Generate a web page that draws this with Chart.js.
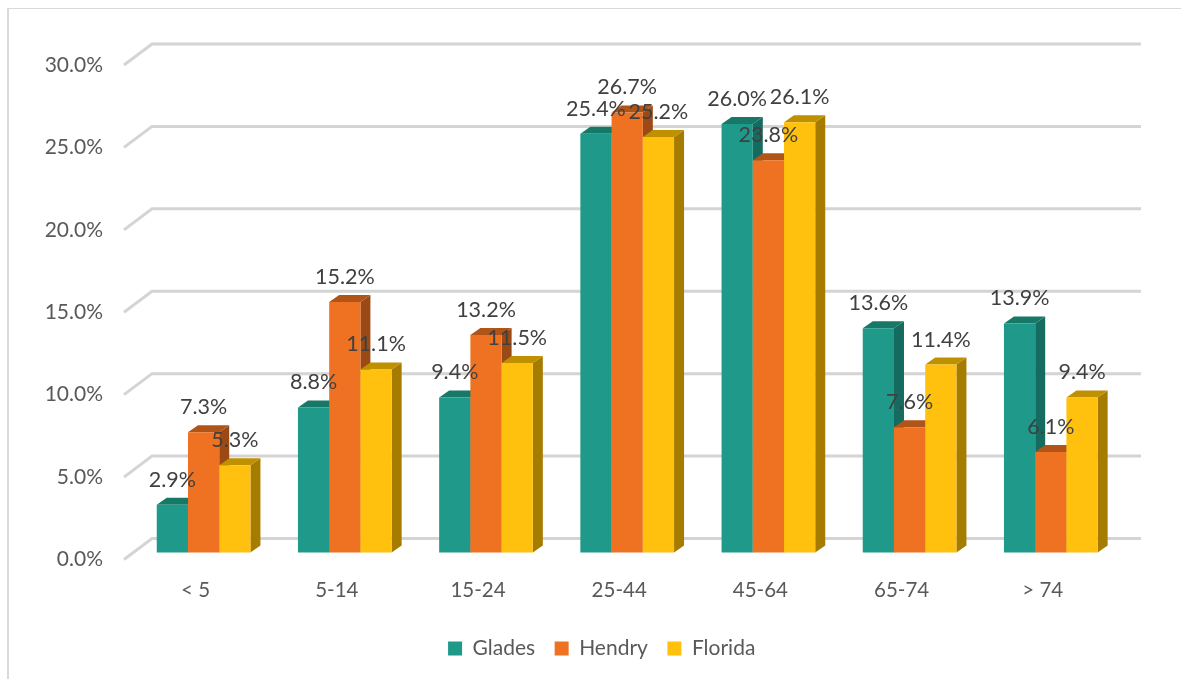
<!DOCTYPE html>
<html>
<head>
<meta charset="utf-8">
<script src="https://cdn.jsdelivr.net/npm/chart.js@4"></script>
<style>
html, body { margin: 0; padding: 0; background: #fff; overflow: hidden; }
#wrap { position: absolute; left: 0; top: 0; width: 1181px; height: 679px; overflow: hidden; }
#frame { position: absolute; left: 7px; top: 8px; width: 1180px; height: 680px; border-top: 1px solid #d9d9d9; border-left: 2px solid #d9d9d9; }
canvas { position: absolute; left: 0; top: 0; }
</style>
</head>
<body>
<div id="wrap">
<div id="frame"></div>
<canvas id="chart" width="1181" height="679"></canvas>
</div>
<script>
const ageGroups = ['< 5', '5-14', '15-24', '25-44', '45-64', '65-74', '> 74'];
const glades = [2.9, 8.8, 9.4, 25.4, 26.0, 13.6, 13.9];
const hendry = [7.3, 15.2, 13.2, 26.7, 23.8, 7.6, 6.1];
const florida = [5.3, 11.1, 11.5, 25.2, 26.1, 11.4, 9.4];

const FONT = 'Lato, sans-serif';
const DEPTH_X = 10, DEPTH_Y = 7;
// where the back wall and the front edge sit, relative to the plane of the bars
const BACK_X = 19, BACK_Y = -14, FRONT_X = -9, FRONT_Y = 7;
const WALL_RIGHT = 1141;
const LEGEND_SHIFT = 31;

const shades = {
    Glades: { top: '#177868', side: '#156b5f' },
    Hendry: { top: '#b05418', side: '#9c4a15' },
    Florida: { top: '#bf9000', side: '#a67c00' }
};

function poly(ctx, pts, color) {
    ctx.fillStyle = color;
    ctx.beginPath();
    pts.forEach((p, i) => i ? ctx.lineTo(p[0], p[1]) : ctx.moveTo(p[0], p[1]));
    ctx.closePath();
    ctx.fill();
}

// back wall gridlines plus the slanted bit on the left
const wallPlugin = {
    id: 'wall',
    beforeDatasetsDraw(chart) {
        const { ctx, scales: { y }, chartArea } = chart;
        ctx.save();
        ctx.strokeStyle = '#d4d4d4';
        ctx.lineWidth = 3;
        y.ticks.forEach(t => {
            const py = y.getPixelForValue(t.value);
            ctx.beginPath();
            ctx.moveTo(chartArea.left + FRONT_X, py + FRONT_Y);
            ctx.lineTo(chartArea.left + BACK_X, py + BACK_Y);
            ctx.lineTo(WALL_RIGHT, py + BACK_Y);
            ctx.stroke();
        });
        ctx.restore();
    }
};

// bars go left to right in each group so the sides overlap properly
const barsPlugin = {
    id: 'bars3d',
    beforeDatasetsDraw(chart) {
        const { ctx } = chart;
        ageGroups.forEach((_, i) => {
            chart.data.datasets.forEach((ds, d) => {
                const el = chart.getDatasetMeta(d).data[i];
                const c = shades[ds.label];
                const l = el.x - el.width / 2, r = el.x + el.width / 2;
                poly(ctx, [[r, el.y], [r + DEPTH_X, el.y - DEPTH_Y], [r + DEPTH_X, el.base - DEPTH_Y], [r, el.base]], c.side);
                poly(ctx, [[l, el.y], [l + DEPTH_X, el.y - DEPTH_Y], [r + DEPTH_X, el.y - DEPTH_Y], [r, el.y]], c.top);
                el.draw(ctx);
            });
        });
        return false;
    }
};

// afterDatasetsDraw is skipped once the bars plugin cancels, so labels go in afterDraw
const labelsPlugin = {
    id: 'barLabels',
    afterLayout(chart) {
        chart.legend.left += LEGEND_SHIFT;
        chart.legend.right += LEGEND_SHIFT;
        chart.legend.adjustHitBoxes();
    },
    afterDraw(chart) {
        const { ctx } = chart;
        ctx.save();
        ctx.font = '21.5px ' + FONT;
        ctx.fillStyle = '#404040';
        ctx.textAlign = 'center';
        ctx.textBaseline = 'middle';
        chart.data.datasets.forEach((ds, d) => {
            chart.getDatasetMeta(d).data.forEach((el, i) => {
                ctx.fillText(ds.data[i].toFixed(1) + '%', el.x, el.y - 25);
            });
        });
        ctx.restore();
    }
};

new Chart(document.getElementById('chart').getContext('2d'), {
    type: 'bar',
    data: {
        labels: ageGroups,
        datasets: [
            { label: 'Glades', data: glades, backgroundColor: '#1f9a8a' },
            { label: 'Hendry', data: hendry, backgroundColor: '#ee7222' },
            { label: 'Florida', data: florida, backgroundColor: '#ffc00e' }
        ]
    },
    options: {
        responsive: false,
        animation: false,
        layout: { padding: { left: 20, right: 59.6, top: 58, bottom: 10 } },
        datasets: { bar: { categoryPercentage: 0.6635, barPercentage: 1 } },
        plugins: {
            tooltip: { enabled: false },
            legend: {
                position: 'bottom',
                labels: { boxWidth: 14, boxHeight: 14, padding: 19.5, color: '#595959', font: { family: FONT, size: 21 } }
            }
        },
        scales: {
            x: {
                grid: { display: false },
                border: { display: false },
                afterFit(scale) { scale.height = 66; },
                ticks: { color: '#595959', font: { family: FONT, size: 20.5 }, labelOffset: -8, padding: 18, maxRotation: 0 }
            },
            y: {
                min: 0,
                max: 30,
                grid: { display: false },
                border: { display: false },
                afterFit(scale) { scale.width = 113; },
                ticks: { stepSize: 5, color: '#595959', font: { family: FONT, size: 21 }, padding: 22, labelOffset: 7,
                    callback: v => v.toFixed(1) + '%' }
            }
        }
    },
    plugins: [wallPlugin, barsPlugin, labelsPlugin]
});
</script>
</body>
</html>
